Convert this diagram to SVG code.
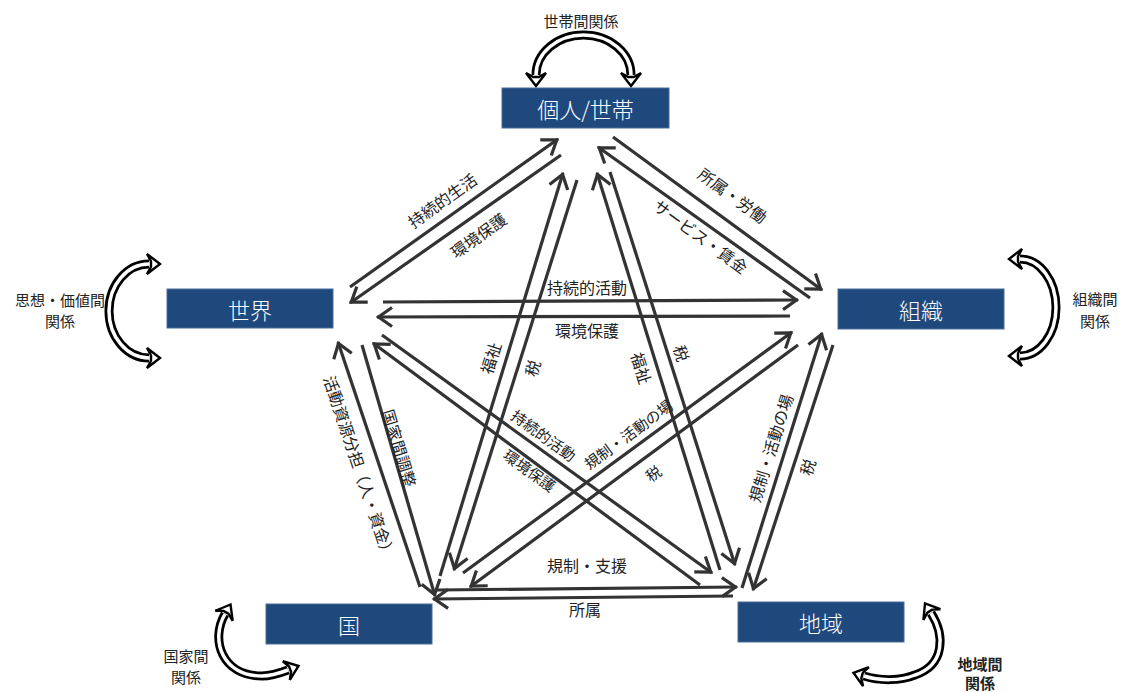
<svg xmlns="http://www.w3.org/2000/svg" xmlns:xlink="http://www.w3.org/1999/xlink" width="1123" height="692" viewBox="0 0 1123 692">
<style>
.node rect{fill:#1F497D;stroke:#4a6d99;stroke-width:1}
.node text{fill:#ffffff;font-family:"Noto Sans CJK JP","Noto Sans",sans-serif;font-size:22px;font-weight:300;text-anchor:middle;dominant-baseline:central}
.ln{stroke:#333333;stroke-width:3.2;fill:none;marker-end:url(#ah)}
.lbl{fill:#222222;font-family:"Noto Sans CJK JP","Noto Sans",sans-serif;font-size:16px;text-anchor:middle;dominant-baseline:central}
.sm{font-size:15px}
.loop-o{fill:none;stroke:#000;stroke-width:9}
.loop-i{fill:none;stroke:#fff;stroke-width:3.5}
.lh{fill:#fff;stroke:#000;stroke-width:2.4;stroke-linejoin:miter}
.ll{fill:#222222;font-family:"Noto Sans CJK JP","Noto Sans",sans-serif;font-size:15px;text-anchor:middle;dominant-baseline:central}
</style>
<defs>
<marker id="ah" markerUnits="userSpaceOnUse" markerWidth="24" markerHeight="24" viewBox="-20 -12 24 24" refX="0" refY="0" orient="auto">
<path d="M-15,-9.5 L-1.5,0 L-15,9.5" fill="none" stroke="#333333" stroke-width="3.2"/>
</marker>
<path id="lh" d="M0,0 L-13,-10 L-9,-2.8 L-9,2.8 L-13,10 Z"/>
</defs>
<rect width="1123" height="692" fill="#ffffff"/>

<g id="connectors">
<!-- 個人-世界 -->
<line class="ln" x1="350" y1="287" x2="558" y2="139"/>
<line class="ln" x1="561" y1="155" x2="350" y2="303"/>
<!-- 個人-組織 -->
<line class="ln" x1="613" y1="137" x2="822" y2="290"/>
<line class="ln" x1="810" y1="298" x2="598" y2="147"/>
<!-- 世界-組織 -->
<line class="ln" x1="383" y1="302" x2="798" y2="300"/>
<line class="ln" x1="790" y1="316" x2="377" y2="317"/>
<!-- 世界-国 -->
<line class="ln" x1="420" y1="587" x2="338" y2="342"/>
<line class="ln" x1="362" y1="345" x2="435" y2="596"/>
<!-- 組織-地域 -->
<line class="ln" x1="742" y1="588" x2="822" y2="333"/>
<line class="ln" x1="833" y1="345" x2="753" y2="590"/>
<!-- 国-地域 -->
<line class="ln" x1="437" y1="590" x2="737" y2="587"/>
<line class="ln" x1="733" y1="596" x2="433" y2="599"/>
<!-- 個人-国 -->
<line class="ln" x1="440" y1="576" x2="563" y2="173"/>
<line class="ln" x1="577" y1="180" x2="454" y2="570"/>
<!-- 個人-地域 -->
<line class="ln" x1="720" y1="570" x2="597" y2="173"/>
<line class="ln" x1="610" y1="172" x2="735" y2="565"/>
<!-- 世界-地域 -->
<line class="ln" x1="382" y1="335" x2="712" y2="573"/>
<line class="ln" x1="700" y1="585" x2="373" y2="343"/>
<!-- 組織-国 -->
<line class="ln" x1="463" y1="573" x2="792" y2="332"/>
<line class="ln" x1="798" y1="345" x2="470" y2="587"/>

<!-- labels -->
<text class="lbl" transform="translate(442,200) rotate(-35.4)">持続的生活</text>
<text class="lbl" transform="translate(478,235) rotate(-35.4)">環境保護</text>
<text class="lbl" transform="translate(733,195) rotate(36.2)">所属・労働</text>
<text class="lbl" transform="translate(701,236) rotate(36.2)">サービス・賃金</text>
<text class="lbl" x="587" y="287">持続的活動</text>
<text class="lbl" x="587" y="330">環境保護</text>
<text class="lbl" transform="translate(360,467) rotate(71.5)">活動資源分担（人・資金）</text>
<text class="lbl" transform="translate(400,448) rotate(73)">国家間調整</text>
<text class="lbl" transform="translate(770,448) rotate(-72.6)">規制・活動の場</text>
<text class="lbl" transform="translate(807,467) rotate(-72.6)">税</text>
<text class="lbl" x="587" y="565">規制・支援</text>
<text class="lbl" x="585" y="609">所属</text>
<text class="lbl" transform="translate(490,358) rotate(-73)">福祉</text>
<text class="lbl" transform="translate(532,368) rotate(-73)">税</text>
<text class="lbl" transform="translate(642,368) rotate(72.8)">福祉</text>
<text class="lbl" transform="translate(682,353) rotate(72.8)">税</text>
<text class="lbl sm" transform="translate(544,435) rotate(35.8)">持続的活動</text>
<text class="lbl sm" transform="translate(530,470) rotate(35.8)">環境保護</text>
<text class="lbl sm" transform="translate(628,434) rotate(-36.2)">規制・活動の場</text>
<text class="lbl sm" transform="translate(653,473) rotate(-36.2)">税</text>
</g>

<g id="self-loops">
<!-- top -->
<path class="loop-o" d="M536,75 A47.5,40 0 0 1 631,75"/>
<path class="loop-i" d="M536,75 A47.5,40 0 0 1 631,75"/>
<use xlink:href="#lh" class="lh" transform="translate(536,86) rotate(90)"/>
<use xlink:href="#lh" class="lh" transform="translate(631,86) rotate(90)"/>
<text class="ll" x="581" y="20">世帯間関係</text>
<!-- left -->
<path class="loop-o" d="M149,264 A40,47 0 0 0 149,358"/>
<path class="loop-i" d="M149,264 A40,47 0 0 0 149,358"/>
<use xlink:href="#lh" class="lh" transform="translate(160,264) rotate(0)"/>
<use xlink:href="#lh" class="lh" transform="translate(160,358) rotate(0)"/>
<text class="ll" x="60" y="299">思想・価値間</text>
<text class="ll" x="60" y="320">関係</text>
<!-- right -->
<path class="loop-o" d="M1020,259 A36,48.5 0 0 1 1020,356"/>
<path class="loop-i" d="M1020,259 A36,48.5 0 0 1 1020,356"/>
<use xlink:href="#lh" class="lh" transform="translate(1009,259) rotate(180)"/>
<use xlink:href="#lh" class="lh" transform="translate(1009,356) rotate(180)"/>
<text class="ll" x="1095" y="298">組織間</text>
<text class="ll" x="1095" y="320">関係</text>
<!-- bottom-left -->
<path class="loop-o" d="M225,614 C210,640 222,676 262,676 C272,676 280,673 288,670"/>
<path class="loop-i" d="M225,614 C210,640 222,676 262,676 C272,676 280,673 288,670"/>
<use xlink:href="#lh" class="lh" transform="translate(230.5,604.5) rotate(-60)"/>
<use xlink:href="#lh" class="lh" transform="translate(298.5,666) rotate(-20.6)"/>
<text class="ll" x="186" y="655">国家間</text>
<text class="ll" x="186" y="676">関係</text>
<!-- bottom-right -->
<path class="loop-o" d="M931,613 C945,635 945,665 915,675 C900,681 880,681 864,676"/>
<path class="loop-i" d="M931,613 C945,635 945,665 915,675 C900,681 880,681 864,676"/>
<use xlink:href="#lh" class="lh" transform="translate(925,603.5) rotate(-122)"/>
<use xlink:href="#lh" class="lh" transform="translate(853.5,672.8) rotate(197)"/>
<text class="ll" x="980" y="663" font-weight="bold">地域間</text>
<text class="ll" x="980" y="682" font-weight="bold">関係</text>
</g>

<g id="node-kojin" class="node">
<rect x="502" y="88" width="167" height="40"/>
<text x="585.5" y="108">個人/世帯</text>
</g>
<g id="node-sekai" class="node">
<rect x="167" y="289" width="166" height="39"/>
<text x="250" y="308.5">世界</text>
</g>
<g id="node-soshiki" class="node">
<rect x="838" y="289" width="166" height="40"/>
<text x="921" y="309">組織</text>
</g>
<g id="node-kuni" class="node">
<rect x="266" y="604" width="166" height="40"/>
<text x="349" y="624">国</text>
</g>
<g id="node-chiiki" class="node">
<rect x="738" y="602" width="166" height="40"/>
<text x="821" y="622">地域</text>
</g>
</svg>
